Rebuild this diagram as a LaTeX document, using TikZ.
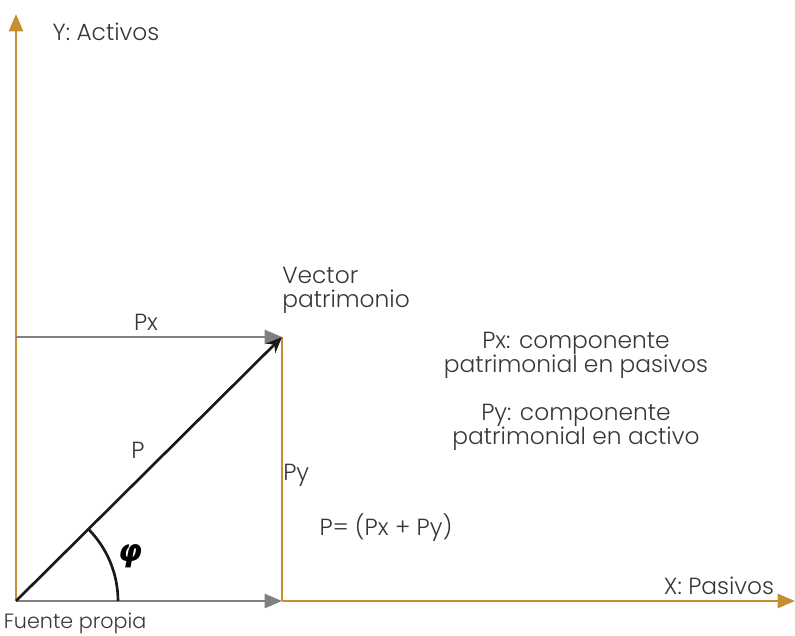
\documentclass[tikz,border=0pt]{standalone}
\usepackage{fontspec}
\setmainfont{Poppins}[UprightFont={* Light}]
\newfontfamily\greekfont{DejaVu Sans}
\usepackage{tikz}
\usetikzlibrary{arrows.meta, positioning, calc}
\usepackage{xcolor}
\definecolor{axisgold}{RGB}{198,142,50}
\definecolor{compgray}{RGB}{128,128,130}
\definecolor{txtgray}{RGB}{55,55,55}

\begin{document}
\begin{tikzpicture}[
  x=0.75pt, y=0.75pt,
  axis/.style={draw=axisgold, line width=2pt, -{Triangle[length=13pt,width=10.5pt]}},
  axisline/.style={draw=axisgold, line width=2pt},
  comp/.style={draw=compgray, line width=2pt, -{Triangle[length=13pt,width=10.5pt]}},
  vec/.style={draw=black!90, line width=2pt, -{Stealth[length=12pt,width=10pt]}},
  lbl/.style={text=txtgray, font=\fontsize{17.5}{17.5}\selectfont, inner sep=0pt},
  note/.style={lbl, align=center, font=\fontsize{17.5}{18}\selectfont}
  ]
  \useasboundingbox (0,0) rectangle (795,635);
  % points
  \coordinate (o) at (16,34);
  \coordinate (ytip) at (16,621);
  \coordinate (xtip) at (795,34);
  \coordinate (p) at (282,298);
  \coordinate (px) at (16,298);
  \coordinate (py) at (282,34);
  % axes
  \draw[axis] (o) -- (ytip);
  \draw[axisline] (py) -- (p);
  \draw[axis] (py) -- (xtip);
  % components
  \draw[comp] (o) -- (py);
  \draw[comp] (px) -- (p);
  % vector and angle
  \draw[vec] (o) -- (p);
  \draw[line width=2pt, black!90] ($(o)+(102,0)$) arc[start angle=0, end angle=45, radius=102];
  % labels
  \node[lbl] (ylab) at (106,603) {Y: Activos};
  \node[lbl] (xlab) at (719,49) {X: Pasivos};
  \node[lbl, font=\fontsize{15.5}{15.5}\selectfont, anchor=base] (src) at (75,7) {Fuente propia};
  \node[note, align=left, anchor=west] (vlab) at (282,345) {Vector\\patrimonio};
  \node[lbl] (pxlab) at (146,313) {Px};
  \node[lbl] (plab) at (138,185) {P};
  \node[lbl, anchor=west] (pylab) at (283,160) {Py};
  \node[lbl, text=black] (phi) at (130,79) {\greekfont\bfseries\itshape\fontsize{23}{23}\selectfont φ};
  \node[lbl] (sum) at (386,107) {P= (Px + Py)};
  \node[note] (n1) at (576,280) {Px: componente\\patrimonial en pasivos};
  \node[note] (n2) at (576,208) {Py: componente\\patrimonial en activo};
\end{tikzpicture}
\end{document}
